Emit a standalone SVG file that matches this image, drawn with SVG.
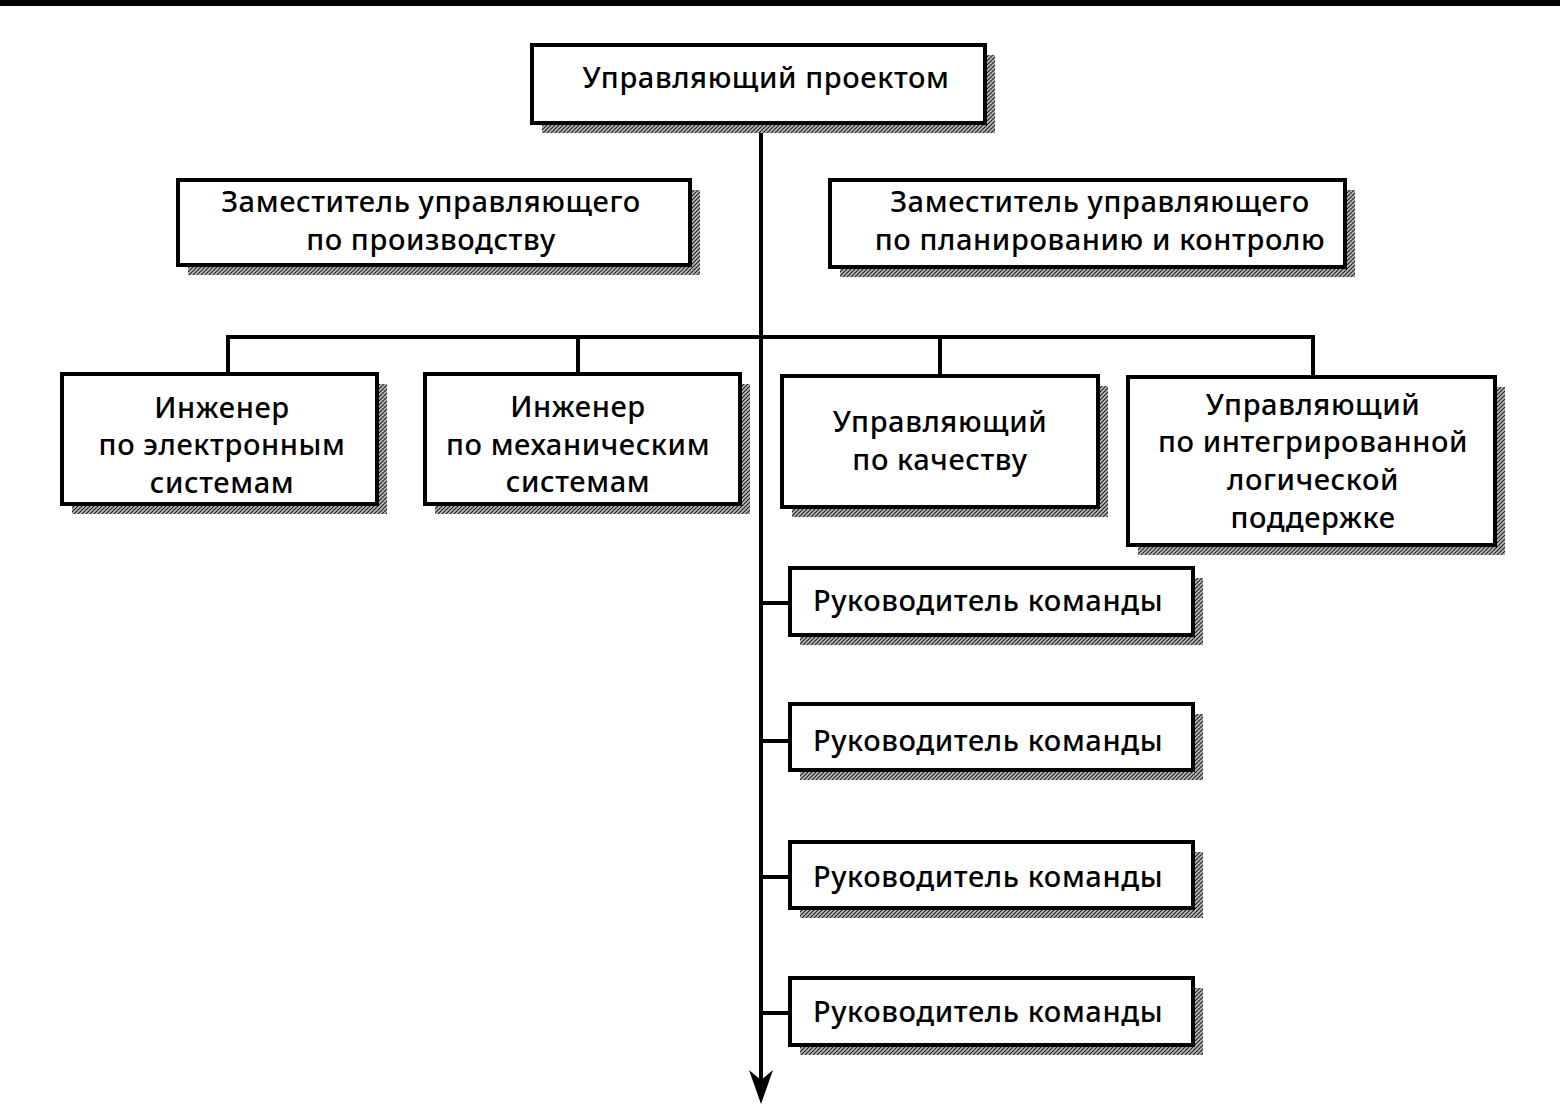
<svg xmlns="http://www.w3.org/2000/svg" width="1560" height="1106" viewBox="0 0 1560 1106">
<style>
.box{fill:#fff;stroke:#000;stroke-width:4}
.sh{fill:url(#hatch)}
.t{font-family:"Noto Sans","Liberation Sans",sans-serif;font-size:29px;font-weight:500;letter-spacing:0.6px;fill:#000;text-anchor:middle}
.ln{stroke:#000;stroke-width:4;fill:none}
</style>
<defs>
<pattern id="hatch" patternUnits="userSpaceOnUse" width="4" height="4">
<rect width="4" height="4" fill="#bbb"/>
<path d="M-1,1 l2,-2 M0,4 l4,-4 M3,5 l2,-2" stroke="#222" stroke-width="1.2"/>
</pattern>
</defs>
<rect x="0" y="0" width="1560" height="6" fill="#000"/>
<g id="connectors">
<line class="ln" x1="761" y1="125" x2="761" y2="1082" stroke-width="5"/>
<polygon points="749,1070 761,1080 773,1070 761,1104" fill="#000"/>
<polyline class="ln" points="228,374 228,337 1313,337 1313,376"/>
<line class="ln" x1="578" y1="337" x2="578" y2="374"/>
<line class="ln" x1="940" y1="337" x2="940" y2="374"/>
<line class="ln" x1="761" y1="603" x2="790" y2="603"/>
<line class="ln" x1="761" y1="741" x2="790" y2="741"/>
<line class="ln" x1="761" y1="877" x2="790" y2="877"/>
<line class="ln" x1="761" y1="1013" x2="790" y2="1013"/>
</g>
<g id="n1"><rect class="sh" x="542" y="55" width="453" height="78"/><rect class="box" x="532" y="45" width="453" height="78"/><text class="t" x="766" y="88">Управляющий проектом</text></g>
<g id="n2"><rect class="sh" x="188" y="190" width="512" height="85"/><rect class="box" x="178" y="180" width="512" height="85"/><text class="t" x="431" y="212">Заместитель управляющего</text><text class="t" x="431" y="250">по производству</text></g>
<g id="n3"><rect class="sh" x="840" y="190" width="515" height="87"/><rect class="box" x="830" y="180" width="515" height="87"/><text class="t" x="1100" y="212">Заместитель управляющего</text><text class="t" x="1100" y="250">по планированию и контролю</text></g>
<g id="n4"><rect class="sh" x="72" y="384" width="315" height="130"/><rect class="box" x="62" y="374" width="315" height="130"/><text class="t" x="222" y="418">Инженер</text><text class="t" x="222" y="455">по электронным</text><text class="t" x="222" y="493">системам</text></g>
<g id="n5"><rect class="sh" x="435" y="384" width="315" height="130"/><rect class="box" x="425" y="374" width="315" height="130"/><text class="t" x="578" y="417">Инженер</text><text class="t" x="578" y="455">по механическим</text><text class="t" x="578" y="492">системам</text></g>
<g id="n6"><rect class="sh" x="792" y="386" width="316" height="131"/><rect class="box" x="782" y="376" width="316" height="131"/><text class="t" x="940" y="432">Управляющий</text><text class="t" x="940" y="470">по качеству</text></g>
<g id="n7"><rect class="sh" x="1138" y="387" width="367" height="168"/><rect class="box" x="1128" y="377" width="367" height="168"/><text class="t" x="1313" y="415">Управляющий</text><text class="t" x="1313" y="452">по интегрированной</text><text class="t" x="1313" y="490">логической</text><text class="t" x="1313" y="528">поддержке</text></g>
<g id="n8"><rect class="sh" x="800" y="578" width="403" height="67"/><rect class="box" x="790" y="568" width="403" height="67"/><text class="t" x="988" y="611">Руководитель команды</text></g>
<g id="n9"><rect class="sh" x="800" y="714" width="403" height="66"/><rect class="box" x="790" y="704" width="403" height="66"/><text class="t" x="988" y="751">Руководитель команды</text></g>
<g id="n10"><rect class="sh" x="800" y="852" width="403" height="66"/><rect class="box" x="790" y="842" width="403" height="66"/><text class="t" x="988" y="887">Руководитель команды</text></g>
<g id="n11"><rect class="sh" x="800" y="988" width="403" height="67"/><rect class="box" x="790" y="978" width="403" height="67"/><text class="t" x="988" y="1022">Руководитель команды</text></g>
</svg>
